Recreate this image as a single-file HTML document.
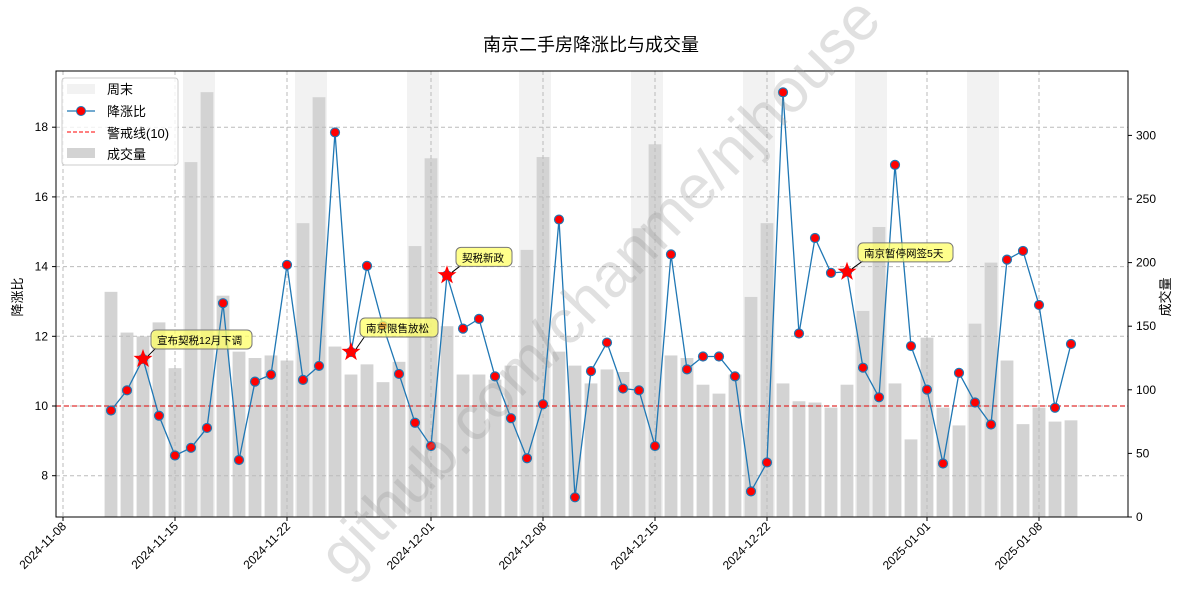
<!DOCTYPE html>
<html><head><meta charset="utf-8">
<style>
body{margin:0;background:#fff;}
svg text{font-family:"Liberation Sans","Noto Sans CJK SC",sans-serif;}
</style></head>
<body>
<svg id="chart" width="1189" height="597" xmlns="http://www.w3.org/2000/svg">
<text x="591" y="51" text-anchor="middle" font-size="18" fill="#000">南京二手房降涨比与成交量</text>
<g id="weekends"></g>
<g id="bars"></g>
<g id="grid"></g>
<line x1="56" x2="1128" y1="406" y2="406" stroke="#e03030" stroke-width="1.2" stroke-dasharray="5,3"/>
<g id="line"></g>
<g id="annos"></g>
<rect x="56" y="71" width="1072" height="446" fill="none" stroke="#000" stroke-width="1"/>
<g id="axes"></g>
<text transform="translate(22,297) rotate(-90)" text-anchor="middle" font-size="13">降涨比</text>
<text transform="translate(1170,297) rotate(-90)" text-anchor="middle" font-size="13">成交量</text>
<g>
<rect x="62" y="78" width="116" height="87" rx="3" fill="#fff" fill-opacity="0.8" stroke="#ccc"/>
<rect x="67" y="84" width="28" height="10" fill="#f2f2f2"/>
<text x="107" y="94" font-size="13">周末</text>
<line x1="67" x2="95" y1="111" y2="111" stroke="#1f77b4" stroke-width="1.3"/>
<circle cx="81" cy="111" r="4.5" fill="red" stroke="#1f77b4"/>
<text x="107" y="116" font-size="13">降涨比</text>
<line x1="67" x2="95" y1="132" y2="132" stroke="red" stroke-dasharray="4,2"/>
<text x="107" y="138" font-size="13">警戒线(10)</text>
<rect x="67" y="148" width="28" height="10" fill="#d3d3d3"/>
<text x="107" y="159" font-size="13">成交量</text>
</g>
<text transform="translate(345,580) rotate(-46)" font-size="62" fill="#999" fill-opacity="0.3">github.com/chanme/njhouse</text>
</svg>
<script>
const days=[3,4,5,6,7,8,9,10,11,12,13,14,15,16,17,18,19,20,21,22,23,24,25,26,27,28,29,30,31,32,33,34,35,36,37,38,39,40,41,42,43,44,45,46,47,48,49,50,51,52,53,54,55,56,57,58,59,60,61,62,63];
const ratio=[9.87,10.45,11.35,9.72,8.58,8.8,9.37,12.95,8.45,10.7,10.9,14.05,10.75,11.15,17.85,11.55,14.02,12.3,10.92,9.52,8.85,13.75,12.22,12.5,10.85,9.65,8.5,10.05,15.35,7.38,11.0,11.82,10.5,10.45,8.85,14.35,11.05,11.42,11.42,10.85,7.55,8.38,19.0,12.08,14.82,13.82,13.85,11.1,10.25,16.92,11.72,10.47,8.35,10.95,10.1,9.47,14.2,14.45,12.9,9.95,11.78];
const volume=[177,145,142,153,117,279,334,174,130,125,127,123,231,330,134,112,120,106,122,213,282,150,112,112,108,119,210,283,130,119,105,116,114,227,293,127,125,104,97,112,173,231,105,91,90,86,104,162,228,105,61,141,86,72,152,200,123,73,86,75,76];
const weekendDays=[8,15,22,29,36,43,50,57];
const yTicks=[8,10,12,14,16,18];
const y2Ticks=[0,50,100,150,200,250,300];
const xTickDays=[0,7,14,23,30,37,44,54,61];
const xTickLabels=["2024-11-08","2024-11-15","2024-11-22","2024-12-01","2024-12-08","2024-12-15","2024-12-22","2025-01-01","2025-01-08"];
const annoDays=[5,18,24,49];
const annoLabels=["宣布契税12月下调","南京限售放松","契税新政","南京暂停网签5天"];
const annoDx=[8,9,9,11];
const annoDy=[-15,-20,-14,-15];

const NS="http://www.w3.org/2000/svg";
const X=d=>63+16*d;
const Y=v=>406-(v-10)*34.85;
const Y2=v=>517-v*1.272;
function mk(tag,attrs,parent){const e=document.createElementNS(NS,tag);for(const k in attrs)e.setAttribute(k,attrs[k]);parent.appendChild(e);return e;}
const g=id=>document.getElementById(id);

weekendDays.forEach(d=>{
  const r=mk('rect',{x:X(d-0.5),y:71,width:32,height:446,fill:'#f2f2f2'},g('weekends'));
  
  
});
days.forEach((d,i)=>{
  const r=mk('rect',{x:X(d)-6.4,y:Y2(volume[i]),width:12.8,height:517-Y2(volume[i]),fill:'#d3d3d3'},g('bars'));
  
  
});
yTicks.forEach(v=>{
  mk('line',{x1:56,x2:1128,y1:Y(v),y2:Y(v),stroke:'#bbb','stroke-dasharray':'4,3'},g('grid'));
  mk('line',{x1:52,x2:56,y1:Y(v),y2:Y(v),stroke:'#000'},g('axes'));
  const t=mk('text',{x:48,y:Y(v)+4,'text-anchor':'end','font-size':'12'},g('axes'));t.textContent=v;
  
  
});
y2Ticks.forEach(v=>{
  mk('line',{x1:1128,x2:1132,y1:Y2(v),y2:Y2(v),stroke:'#000'},g('axes'));
  const t=mk('text',{x:1136,y:Y2(v)+4,'font-size':'12'},g('axes'));t.textContent=v;
  
  
});
xTickDays.forEach((d,i)=>{
  mk('line',{x1:X(d),x2:X(d),y1:71,y2:517,stroke:'#bbb','stroke-dasharray':'4,3'},g('grid'));
  mk('line',{x1:X(d),x2:X(d),y1:517,y2:521,stroke:'#000'},g('axes'));
  const t=mk('text',{transform:`translate(${X(d)+4},${527}) rotate(-45)`,'text-anchor':'end','font-size':'12'},g('axes'));t.textContent=xTickLabels[i];
  
  
});
const pl=mk('polyline',{points:days.map((d,i)=>X(d)+','+Y(ratio[i])).join(' '),fill:'none',stroke:'#1f77b4','stroke-width':1.3},g('line'));


days.forEach((d,i)=>{
  const c=mk('circle',{cx:X(d),cy:Y(ratio[i]),r:4.5,fill:'red',stroke:'#1f77b4','stroke-width':1.2},g('line'));
  
  
});
function star(cx,cy,R){let p=[];for(let k=0;k<10;k++){const r=k%2?R*0.4:R;const a=-Math.PI/2+k*Math.PI/5;p.push((cx+r*Math.cos(a)).toFixed(1)+','+(cy+r*Math.sin(a)).toFixed(1));}return p.join(' ');}
annoDays.forEach((d,i)=>{
  const v=ratio[days.indexOf(d)];
  const cx=X(d),cy=Y(v);
  const s=mk('polygon',{points:star(cx,cy,10),fill:'red'},g('annos'));
  
  
  const bx=cx+annoDx[i],by=cy+annoDy[i];
  mk('line',{x1:cx+5,y1:cy-3,x2:bx+5,y2:by+4,stroke:'#000','stroke-width':1},g('annos'));
  const w=annoLabels[i].replace(/[0-9]/g,'').length*11+(annoLabels[i].match(/[0-9]/g)||[]).length*6+12;
  const b=mk('rect',{x:bx,y:by-14,width:w,height:19,rx:5,fill:'#ffff66','fill-opacity':0.75,stroke:'#777'},g('annos'));
  
  
  const t=mk('text',{x:bx+6,y:by,'font-size':'10.5'},g('annos'));t.textContent=annoLabels[i];
  
  
});
</script>
</body></html>
